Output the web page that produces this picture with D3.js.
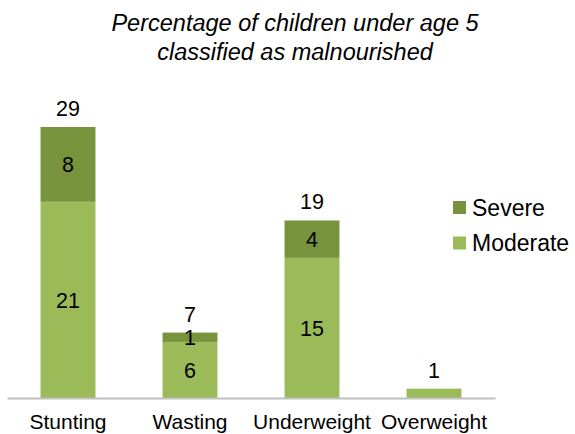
<!DOCTYPE html>
<html>
<head>
<meta charset="utf-8">
<script src="https://cdn.jsdelivr.net/npm/d3@7/dist/d3.min.js"></script>
<style>
  html, body { margin: 0; padding: 0; background: #fff; }
  svg { display: block; font-family: "Liberation Sans", Arial, sans-serif; }
</style>
</head>
<body>
<svg id="chart" width="575" height="434"></svg>
<script>
// Malnutrition indicators, children under 5 (%)
const categories = ["Stunting", "Wasting", "Underweight", "Overweight"];
const moderate = [21, 6, 15, 1];
const severe = [8, 1, 4, 0];
const totals = [29, 7, 19, 1];
const seriesNames = ["Severe", "Moderate"];
const titleLines = ["Percentage of children under age 5", "classified as malnourished"];

const colors = { Moderate: "#9BBB59", Severe: "#77933C" };

const svg = d3.select("#chart");

const x = d3.scaleBand()
  .domain(categories)
  .range([7, 495])
  .paddingInner(0.55)
  .paddingOuter(0.275);

const y = d3.scaleLinear()
  .domain([0, 29])
  .range([398, 127]);

const rows = categories.map((c, i) => ({
  category: c, Moderate: moderate[i], Severe: severe[i], total: totals[i]
}));

const stack = d3.stack().keys(["Moderate", "Severe"]);
const layers = stack(rows);

// Title
svg.append("g")
  .selectAll("text")
  .data(titleLines)
  .join("text")
  .attr("x", 295)
  .attr("y", (d, i) => 31 + i * 29)
  .attr("text-anchor", "middle")
  .attr("font-style", "italic")
  .attr("font-size", "23.5px")
  .attr("fill", "#000")
  .text(d => d);

// Stacked bars
const layerG = svg.append("g")
  .selectAll("g")
  .data(layers)
  .join("g")
  .attr("fill", d => colors[d.key]);

layerG.selectAll("rect")
  .data(d => d.filter(s => s[1] - s[0] > 0))
  .join("rect")
  .attr("x", d => x(d.data.category))
  .attr("width", x.bandwidth())
  .attr("y", d => y(d[1]))
  .attr("height", d => y(d[0]) - y(d[1]));

// Segment value labels (only where the bar has both parts)
const labelFont = "21.5px";
layers.forEach(layer => {
  svg.append("g")
    .selectAll("text")
    .data(layer.filter(s => s.data.Severe > 0))
    .join("text")
    .attr("x", d => x(d.data.category) + x.bandwidth() / 2)
    .attr("y", d => (y(d[0]) + y(d[1])) / 2)
    .attr("dy", "0.36em")
    .attr("text-anchor", "middle")
    .attr("font-size", labelFont)
    .attr("fill", "#000")
    .text(d => layer.key === "Moderate" ? d.data.Moderate : d.data.Severe);
});

// Total labels above each bar
svg.append("g")
  .selectAll("text")
  .data(rows)
  .join("text")
  .attr("x", d => x(d.category) + x.bandwidth() / 2)
  .attr("y", d => y(d.total) - 11)
  .attr("text-anchor", "middle")
  .attr("font-size", labelFont)
  .attr("fill", "#000")
  .text(d => d.total);

// Category axis
const xAxis = svg.append("g")
  .attr("transform", `translate(0,${y(0)})`)
  .call(d3.axisBottom(x).tickSize(0).tickPadding(16.5));
xAxis.select(".domain").attr("stroke", "#BFBFBF").attr("stroke-width", 2);
xAxis.selectAll("text")
  .attr("font-size", "21px")
  .attr("font-family", "\"Liberation Sans\", Arial, sans-serif")
  .attr("fill", "#000");

// Legend
const legend = svg.append("g")
  .selectAll("g")
  .data(seriesNames)
  .join("g")
  .attr("transform", (d, i) => `translate(453,${201 + i * 35.5})`);
legend.append("rect")
  .attr("width", 13)
  .attr("height", 13)
  .attr("fill", d => colors[d]);
legend.append("text")
  .attr("x", 19)
  .attr("y", 6.5)
  .attr("dy", "0.36em")
  .attr("font-size", "23px")
  .attr("fill", "#000")
  .text(d => d);
</script>
</body>
</html>
